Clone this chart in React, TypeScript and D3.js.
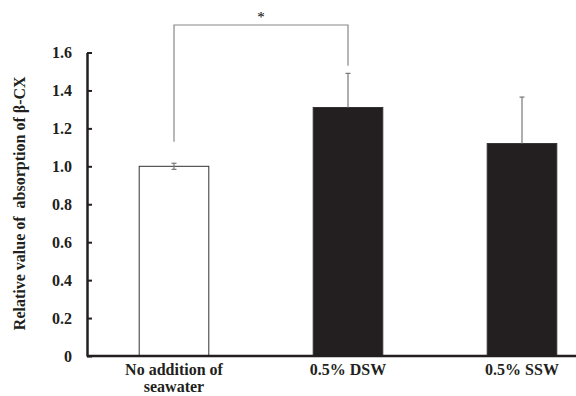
import { useEffect, useRef } from "react";
import * as d3 from "d3";

const categories = [["No addition of", "seawater"], ["0.5% DSW"], ["0.5% SSW"]];
const values = [1.0, 1.31, 1.12];
const errors = [0.016, 0.18, 0.245];
const fills = ["#ffffff", "#231f20", "#231f20"];
const yTicks = [0, 0.2, 0.4, 0.6, 0.8, 1.0, 1.2, 1.4, 1.6];
// significance bracket between bar 0 and bar 1
const bracket = { from: 0, to: 1, leftEnd: 1.13, rightEnd: 1.53, top: 1.745, label: "*" };

export default function App() {
  const ref = useRef<SVGSVGElement>(null);

  useEffect(() => {
    const svg = d3.select(ref.current);
    svg.selectAll("*").remove();
    const font = "'Liberation Serif', 'Times New Roman', serif";
    const fs = "16px";

    const left = 87, bottom = 356;
    const x = d3
      .scaleBand<number>()
      .domain(categories.map((_, i) => i))
      .range([left, left + 522])
      .paddingInner(0.6)
      .paddingOuter(0.3);
    const y = d3.scaleLinear().domain([0, 1.6]).range([bottom, 52.5]);
    const cx = (i: number) => x(i)! + x.bandwidth() / 2;

    // bars
    svg
      .selectAll("rect.bar")
      .data(values)
      .join("rect")
      .attr("x", (_, i) => x(i)!)
      .attr("y", (d) => y(d))
      .attr("width", x.bandwidth())
      .attr("height", (d) => bottom - y(d))
      .attr("fill", (_, i) => fills[i])
      .attr("stroke", "#333")
      .attr("stroke-width", 1);

    // error bars
    values.forEach((v, i) => {
      const g = svg.append("g").attr("stroke", "#777").attr("stroke-width", 1.2);
      const lo = i === 0 ? v - errors[i] : v;
      g.append("line").attr("x1", cx(i)).attr("x2", cx(i)).attr("y1", y(lo)).attr("y2", y(v + errors[i]));
      g.append("line").attr("x1", cx(i) - 2.5).attr("x2", cx(i) + 2.5).attr("y1", y(v + errors[i])).attr("y2", y(v + errors[i]));
      if (i === 0)
        g.append("line").attr("x1", cx(i) - 2.5).attr("x2", cx(i) + 2.5).attr("y1", y(lo)).attr("y2", y(lo));
    });

    // significance bracket
    const bx1 = cx(bracket.from), bx2 = cx(bracket.to);
    svg
      .append("path")
      .attr("d", `M${bx1},${y(bracket.leftEnd)}V${y(bracket.top)}H${bx2}V${y(bracket.rightEnd)}`)
      .attr("fill", "none")
      .attr("stroke", "#888")
      .attr("stroke-width", 1.2);
    svg
      .append("text")
      .attr("x", (bx1 + bx2) / 2)
      .attr("y", y(bracket.top) - 3)
      .attr("text-anchor", "middle")
      .style("font-family", font)
      .style("font-size", "15px")
      .text(bracket.label);

    // y axis
    const yAxis = svg
      .append("g")
      .attr("transform", `translate(${left},0)`)
      .call(
        d3
          .axisLeft(y)
          .tickValues(yTicks)
          .tickSizeInner(-5)
          .tickSizeOuter(0)
          .tickPadding(15)
          .tickFormat((d) => (+d === 0 ? "0" : d3.format(".1f")(+d)))
      );
    yAxis.select(".domain").attr("stroke", "#231f20").attr("stroke-width", 2.5);
    yAxis.selectAll(".tick line").attr("stroke", "#231f20").attr("stroke-width", 2);
    yAxis
      .selectAll(".tick text")
      .style("font-family", font)
      .style("font-size", fs)
      .style("font-weight", "bold")
      .attr("fill", "#231f20");

    // x axis line
    svg
      .append("line")
      .attr("x1", left)
      .attr("x2", 576)
      .attr("y1", bottom)
      .attr("y2", bottom)
      .attr("stroke", "#231f20")
      .attr("stroke-width", 2.5);

    // x labels
    categories.forEach((lines, i) => {
      const t = svg
        .append("text")
        .attr("x", cx(i))
        .attr("y", bottom + 19)
        .attr("text-anchor", "middle")
        .style("font-family", font)
        .style("font-size", fs)
        .style("font-weight", "bold")
        .attr("fill", "#231f20");
      lines.forEach((l, j) => {
        t.append("tspan").attr("x", cx(i)).attr("dy", j === 0 ? 0 : 17).text(l);
      });
    });

    // y title
    svg
      .append("text")
      .attr("transform", `translate(25,${(y(0) + y(1.6)) / 2 - 1}) rotate(-90)`)
      .attr("text-anchor", "middle")
      .style("font-family", font)
      .style("font-size", fs)
      .style("font-weight", "bold")
      .style("white-space", "pre")
      .attr("fill", "#231f20")
      .text("Relative value of  absorption of β-CX");
  }, []);

  return (
    <svg
      ref={ref}
      width={576}
      height={396}
      style={{ position: "absolute", left: 0, top: 0, background: "#fff" }}
    />
  );
}
